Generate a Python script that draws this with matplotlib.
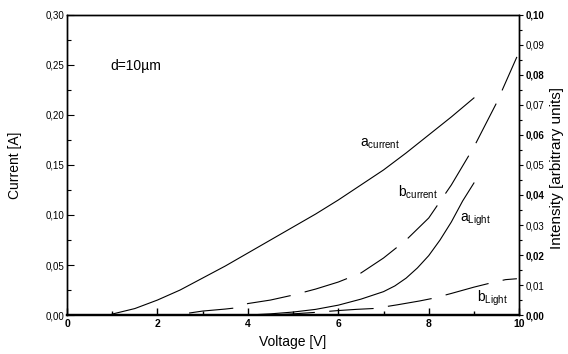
import matplotlib
matplotlib.use("Agg")
import matplotlib.pyplot as plt
from matplotlib.ticker import MultipleLocator, FuncFormatter

plt.rcParams["font.family"] = ["Liberation Sans", "DejaVu Sans"]
plt.rcParams["mathtext.fontset"] = "custom"
plt.rcParams["mathtext.rm"] = "Liberation Sans"
plt.rcParams["mathtext.it"] = "Liberation Sans"

# a_current (left axis, solid)
v_a_cur = [1.0, 1.5, 2.0, 2.5, 3.0, 3.5, 4.0, 4.5, 5.0, 5.5, 6.0, 6.5, 7.0, 7.5, 8.0, 8.5, 9.0]
i_a_cur = [0.001, 0.0065, 0.015, 0.025, 0.037, 0.049, 0.062, 0.075, 0.088, 0.101, 0.115, 0.13, 0.145, 0.162, 0.18, 0.198, 0.217]

# b_current (left axis, dashed)
v_b_cur = [2.7, 3.0, 3.5, 3.7, 4.0, 4.5, 5.0, 5.5, 6.0, 6.5, 7.0, 7.5, 8.0, 8.5, 9.0, 9.5, 9.95]
i_b_cur = [0.002, 0.004, 0.006, 0.007, 0.0115, 0.015, 0.020, 0.026, 0.033, 0.042, 0.057, 0.075, 0.097, 0.13, 0.168, 0.212, 0.258]

# a_Light (right axis, solid)
v_a_light = [4.0, 4.5, 5.0, 5.5, 6.0, 6.5, 7.0, 7.25, 7.5, 7.75, 8.0, 8.25, 8.5, 8.75, 9.0]
l_a_light = [0.0, 0.0004, 0.001, 0.0019, 0.0033, 0.0053, 0.0078, 0.0097, 0.0123, 0.0157, 0.0198, 0.0250, 0.031, 0.038, 0.044]

# b_Light (right axis, dashed)
v_b_light = [4.5, 5.0, 5.5, 6.0, 6.4, 6.8, 7.3, 7.8, 8.1, 8.5, 9.0, 9.4, 9.7, 9.95]
l_b_light = [0.0, 0.0004, 0.0009, 0.0015, 0.0019, 0.0022, 0.0034, 0.0047, 0.0056, 0.0072, 0.0093, 0.0108, 0.0118, 0.0121]

fig = plt.figure(figsize=(5.68, 3.54), dpi=100)
ax = fig.add_axes([0.118, 0.110, 0.796, 0.848])
ax2 = ax.twinx()

lw = 0.8
dash = (40, 13)
ax.plot(v_a_cur, i_a_cur, color="black", lw=lw)
ax.plot(v_b_cur, i_b_cur, color="black", lw=lw, dashes=dash)
ax2.plot(v_a_light, l_a_light, color="black", lw=lw)
ax2.plot(v_b_light, l_b_light, color="black", lw=lw, dashes=dash)

ax.set_xlim(0, 10)
ax.set_ylim(0, 0.30)
ax2.set_ylim(0, 0.10)

comma = FuncFormatter(lambda v, p: f"{v:.2f}".replace(".", ","))
ax.xaxis.set_major_locator(MultipleLocator(2))
ax.xaxis.set_minor_locator(MultipleLocator(1))
ax.yaxis.set_major_locator(MultipleLocator(0.05))
ax.yaxis.set_minor_locator(MultipleLocator(0.025))
ax.yaxis.set_major_formatter(comma)
ax2.yaxis.set_major_locator(MultipleLocator(0.01))
ax2.yaxis.set_minor_locator(MultipleLocator(0.005))
ax2.yaxis.set_major_formatter(comma)

ax.tick_params(axis="x", which="both", direction="in", length=5, width=1, labelsize=7.5, pad=3)
ax.tick_params(axis="x", which="minor", length=3)
ax.tick_params(axis="y", which="major", direction="in", length=5, width=0.8, labelsize=7, pad=2)
ax.tick_params(axis="y", which="minor", direction="in", length=3, width=0.8)
ax2.tick_params(axis="y", which="major", direction="out", length=3, width=0.8, labelsize=7, pad=2)
ax2.tick_params(axis="y", which="minor", direction="out", length=2, width=0.8)

fig.canvas.draw()
for t in ax.get_xticklabels():
    t.set_fontweight("bold")
for val, t in zip(ax2.get_yticks(), ax2.get_yticklabels()):
    if round(val * 100) % 2 == 0:
        t.set_fontweight("bold")

for s in ["left", "top", "right"]:
    ax.spines[s].set_linewidth(1.0)
    ax2.spines[s].set_linewidth(1.0)
ax.spines["bottom"].set_linewidth(1.6)
ax2.spines["bottom"].set_linewidth(1.6)

ax.set_xlabel("Voltage [V]", fontsize=10, labelpad=4)
ax.set_ylabel("Current [A]", fontsize=10)
ax.yaxis.set_label_coords(-0.10, 0.5)
ax2.set_ylabel("Intensity [arbitrary units]", fontsize=11)
ax2.yaxis.set_label_coords(1.068, 0.49)

ax.text(0.95, 0.245, "d=10µm", fontsize=10)
ax.text(6.48, 0.168, r"a$_{\mathrm{current}}$", fontsize=10)
ax.text(7.32, 0.118, r"b$_{\mathrm{current}}$", fontsize=10)
ax2.text(8.69, 0.031, r"a$_{\mathrm{Light}}$", fontsize=10)
ax2.text(9.06, 0.0044, r"b$_{\mathrm{Light}}$", fontsize=10)

fig.savefig("out.png", dpi=100)
